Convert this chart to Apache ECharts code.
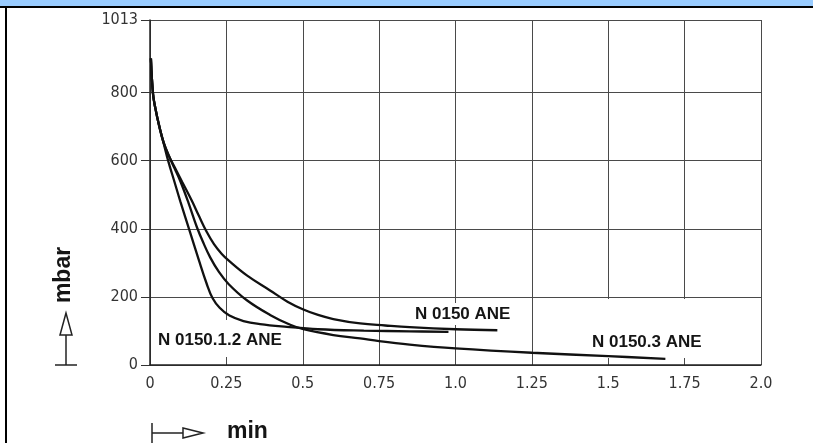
<!DOCTYPE html>
<html><head><meta charset="utf-8">
<script src="https://cdn.jsdelivr.net/npm/echarts@6/dist/echarts.min.js"></script>
<style>html,body{margin:0;padding:0;background:#fff;}#c{width:813px;height:443px;}</style>
</head><body><div id="c"></div>
<script>
// Tick labels
const xTickLabels = ['0', '0.25', '0.5', '0.75', '1.0', '1.25', '1.5', '1.75', '2.0'];
const yTickValues = [0, 200, 400, 600, 800, 1013];

// Series names
const seriesNames = ['N 0150.1.2 ANE', 'N 0150.3 ANE', 'N 0150 ANE'];

// N 0150.1.2 ANE (time in min, pressure in mbar)
const ane12X = [0.003, 0.01, 0.018, 0.029, 0.045, 0.06, 0.08, 0.1, 0.13, 0.16, 0.185, 0.205, 0.228, 0.26, 0.306, 0.36, 0.448, 0.55, 0.7, 0.85, 0.977];
const ane12Y = [900, 795, 752, 706, 650, 598, 538, 478, 393, 308, 240, 196, 168, 145, 129, 120, 112, 105, 101, 99, 97];

// N 0150.3 ANE
const ane3X = [0.003, 0.01, 0.018, 0.029, 0.045, 0.062, 0.08, 0.1, 0.126, 0.153, 0.175, 0.197, 0.225, 0.257, 0.317, 0.393, 0.459, 0.502, 0.6, 0.688, 0.75, 0.85, 1.0, 1.25, 1.5, 1.687];
const ane3Y = [900, 795, 752, 706, 652, 614, 578, 538, 476, 406, 358, 316, 274, 238, 190, 147, 118, 105, 88, 78, 70, 60, 49, 36, 26, 18];

// N 0150 ANE
const aneX = [0.003, 0.01, 0.018, 0.029, 0.045, 0.062, 0.08, 0.105, 0.137, 0.16, 0.185, 0.21, 0.235, 0.257, 0.317, 0.393, 0.45, 0.502, 0.55, 0.6, 0.688, 0.77, 0.85, 1.0, 1.137];
const aneY = [900, 795, 752, 706, 652, 614, 582, 538, 482, 438, 392, 354, 326, 307, 263, 219, 186, 163, 147, 135, 122, 116, 111, 105, 102];

function pairs(xs, ys) { return xs.map((x, i) => [x, ys[i]]); }

const chart = echarts.init(document.getElementById('c'), null, { renderer: 'canvas' });
const tickFont = '"Liberation Sans Narrow", "DejaVu Sans Condensed", "Arial Narrow", sans-serif';
const labelFont = 'bold 17px "Liberation Sans", Arial, sans-serif';
const titleFont = 'bold 23px "Liberation Sans", Arial, sans-serif';

function lineSeries(name, xs, ys) {
  return {
    name: name, type: 'line', data: pairs(xs, ys),
    showSymbol: false, smooth: 0.4,
    lineStyle: { color: '#111', width: 2.3 }, z: 2, silent: true
  };
}

const option = {
  animation: false,
  backgroundColor: '#fff',
  grid: { left: 150, right: 52, top: 20, bottom: 78, show: false },
  xAxis: {
    type: 'value', min: 0, max: 2, interval: 0.25,
    axisLine: { show: true, onZero: false, lineStyle: { color: '#222', width: 1.5 } },
    axisTick: { show: false },
    axisLabel: {
      margin: 11, color: '#333', fontFamily: tickFont, fontSize: 16,
      formatter: v => xTickLabels[Math.round(v / 0.25)]
    },
    splitLine: { show: true, lineStyle: { color: '#4a4a4a', width: 1 } }
  },
  yAxis: {
    type: 'value', min: 0, max: 1013, interval: 200,
    axisLine: { show: true, onZero: false, lineStyle: { color: '#222', width: 1.5 } },
    axisTick: { show: true, inside: false, length: 9, customValues: yTickValues, lineStyle: { color: '#333' } },
    axisLabel: {
      margin: 12, color: '#333', fontFamily: tickFont, fontSize: 16,
      customValues: yTickValues, formatter: v => String(v)
    },
    splitLine: { show: true, lineStyle: { color: '#4a4a4a', width: 1 } }
  },
  series: [
    lineSeries(seriesNames[0], ane12X, ane12Y),
    lineSeries(seriesNames[1], ane3X, ane3Y),
    lineSeries(seriesNames[2], aneX, aneY)
  ],
  graphic: [
    { type: 'rect', z: 10, shape: { x: 0, y: 0, width: 813, height: 6 }, style: { fill: '#99CCFF' } },
    { type: 'rect', z: 10, shape: { x: 0, y: 6, width: 813, height: 2 }, style: { fill: '#000' } },
    { type: 'rect', z: 10, shape: { x: 5, y: 6, width: 2, height: 437 }, style: { fill: '#000' } },
    // label backgrounds
    { type: 'rect', z: 1, shape: { x: 155, y: 320, width: 127, height: 37 }, style: { fill: '#fff' } },
    { type: 'rect', z: 1, shape: { x: 412, y: 303, width: 100, height: 22 }, style: { fill: '#fff' } },
    { type: 'rect', z: 1, shape: { x: 588, y: 299, width: 115, height: 59 }, style: { fill: '#fff' } },
    // curve labels
    { type: 'text', z: 5, x: 158, y: 340, style: { text: seriesNames[0], font: labelFont, fill: '#151515', align: 'left', verticalAlign: 'middle', textAlign: 'left', textVerticalAlign: 'middle' } },
    { type: 'text', z: 5, x: 415, y: 314, style: { text: seriesNames[2], font: labelFont, fill: '#151515', align: 'left', verticalAlign: 'middle', textAlign: 'left', textVerticalAlign: 'middle' } },
    { type: 'text', z: 5, x: 592, y: 342, style: { text: seriesNames[1], font: labelFont, fill: '#151515', align: 'left', verticalAlign: 'middle', textAlign: 'left', textVerticalAlign: 'middle' } },
    // y axis title with arrow
    { type: 'text', z: 5, x: 64, y: 275, rotation: Math.PI / 2, style: { text: 'mbar', font: titleFont, fill: '#151515', align: 'center', verticalAlign: 'middle', textAlign: 'center', textVerticalAlign: 'middle' } },
    { type: 'polygon', z: 5, shape: { points: [[66, 313], [60, 335], [72, 335]] }, style: { fill: '#fff', stroke: '#222', lineWidth: 1.5 } },
    { type: 'line', z: 5, shape: { x1: 66, y1: 335, x2: 66, y2: 365 }, style: { stroke: '#222', lineWidth: 1.5 } },
    { type: 'line', z: 5, shape: { x1: 55, y1: 365, x2: 77, y2: 365 }, style: { stroke: '#222', lineWidth: 1.5 } },
    // x axis title with arrow
    { type: 'line', z: 5, shape: { x1: 152, y1: 423, x2: 152, y2: 443 }, style: { stroke: '#222', lineWidth: 1.5 } },
    { type: 'line', z: 5, shape: { x1: 152, y1: 433, x2: 183, y2: 433 }, style: { stroke: '#222', lineWidth: 1.5 } },
    { type: 'polygon', z: 5, shape: { points: [[203, 433], [183, 428], [183, 438]] }, style: { fill: '#fff', stroke: '#222', lineWidth: 1.5 } },
    { type: 'text', z: 5, x: 227, y: 432, style: { text: 'min', font: titleFont, fill: '#151515', align: 'left', verticalAlign: 'middle', textAlign: 'left', textVerticalAlign: 'middle' } }
  ]
};
chart.setOption(option);
</script>
</body></html>
